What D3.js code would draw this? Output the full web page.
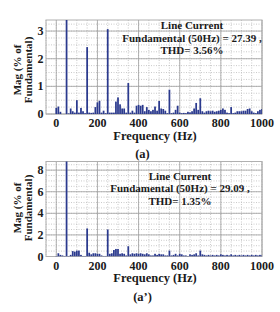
<!DOCTYPE html>
<html>
<head>
<meta charset="utf-8">
<script src="https://cdn.jsdelivr.net/npm/d3@7"></script>
<style>
  body { margin: 0; background: #fff; }
  svg text { font-family: "Liberation Serif", "Times New Roman", serif; font-weight: bold; fill: #1a1a1a; }
</style>
</head>
<body>
<svg id="chart" width="280" height="312"></svg>
<script>
'use strict';

// Harmonic spectrum, one bar every 10 Hz from 0 to 1000 Hz
const frequences = d3.range(0, 1001, 10);

// Panel (a) - % of fundamental
const magA = [0.22, 0.27, 0.08, 0, 0, 100, 0.02, 0.2, 0.1, 0.05,
    0.5, 0.05, 0.22, 0.1, 0.03, 2.42, 0.05, 0.04, 0.05, 0.25,
    0.42, 0.48, 0.05, 0.12, 0.03, 3.07, 0.05, 0.05, 0.05, 0.45,
    0.6, 0.35, 0.2, 0.2, 0.05, 1.12, 0.05, 0.12, 0.05, 0.3,
    0.33, 0.3, 0.33, 0.1, 0.25, 0.15, 0.1, 0.15, 0.27, 0.12,
    0.47, 0.2, 0.18, 0.12, 0.03, 0.88, 0.03, 0.05, 0.15, 0.3,
    0.05, 0.03, 0.04, 0.03, 0.08, 0.06, 0.1, 0.2, 0.4, 0.15,
    0.57, 0.1, 0.05, 0.1, 0.12, 0.1, 0.12, 0.08, 0.1, 0.12,
    0.15, 0.2, 0.15, 0.05, 0.03, 0.25, 0.03, 0.05, 0.1, 0.1,
    0.1, 0.12, 0.12, 0.18, 0.2, 0.1, 0.05, 0.03, 0.1, 0.15,
    0.18];

// Panel (a') - % of fundamental
const magB = [0.05, 0.3, 0.15, 0.1, 0.05, 100, 0.05, 0.15, 0.5, 0.45,
    0.55, 0.55, 0.15, 0.05, 0.05, 2.6, 0.35, 0.2, 0.3, 0.3,
    0.25, 0.25, 0.1, 0.05, 0.05, 2.5, 0.25, 0.3, 0.6, 0.7,
    0.7, 0.25, 0.3, 0.25, 0.1, 0.95, 0.2, 0.3, 0.25, 0.3,
    0.25, 0.3, 0.25, 0.2, 0.3, 0.2, 0.1, 0.1, 0.25, 0.15,
    0.25, 0.2, 0.2, 0.1, 0.1, 0.55, 0.1, 0.15, 0.25, 0.1,
    0.25, 0.2, 0.1, 0.1, 0.05, 0.2, 0.15, 0.2, 0.3, 0.1,
    0.55, 0.2, 0.15, 0.1, 0.15, 0.1, 0.15, 0.1, 0.15, 0.1,
    0.2, 0.15, 0.1, 0.15, 0.1, 0.2, 0.1, 0.15, 0.1, 0.15,
    0.1, 0.15, 0.1, 0.15, 0.1, 0.15, 0.1, 0.15, 0.1, 0.15,
    0.1];

const ticksX = [0, 200, 400, 600, 800, 1000];
const ticksYA = [0, 1, 2, 3];
const ticksYB = [0, 2, 4, 6, 8];

const texteA = ["Line Current", "Fundamental (50Hz) = 27.39 ,", "THD= 3.56%"];
const texteB = ["Line Current", "Fundamental (50Hz) = 29.09 ,", "THD= 1.35%"];

const svg = d3.select("#chart");

/**
 * Dessiner un panneau de spectre
 */
function dessinerPanneau(cfg) {
    const g = svg.append("g");
    const x = d3.scaleLinear().domain([-50, 1000]).range([46, 262]);
    const y = d3.scaleLinear().domain([0, cfg.yMax]).range([cfg.bas, cfg.haut]);

    // grille mineure
    g.selectAll(".vmin").data(d3.range(-50, 1001, 50)).join("line")
        .attr("x1", d => x(d)).attr("x2", d => x(d))
        .attr("y1", cfg.haut).attr("y2", cfg.bas)
        .attr("stroke", "#bdbdbd").attr("stroke-width", 0.8)
        .attr("stroke-dasharray", "1,1.5");
    g.selectAll(".hmin").data(d3.range(0, cfg.yMax, cfg.pasMineur)).join("line")
        .attr("x1", 46).attr("x2", 262)
        .attr("y1", d => y(d)).attr("y2", d => y(d))
        .attr("stroke", "#bdbdbd").attr("stroke-width", 0.8)
        .attr("stroke-dasharray", "1,1.5");
    // grille majeure
    g.selectAll(".vmaj").data(ticksX).join("line")
        .attr("x1", d => x(d)).attr("x2", d => x(d))
        .attr("y1", cfg.haut).attr("y2", cfg.bas)
        .attr("stroke", "#a0a0a0").attr("stroke-width", 0.8);
    g.selectAll(".hmaj").data(cfg.ticksY).join("line")
        .attr("x1", 46).attr("x2", 262)
        .attr("y1", d => y(d)).attr("y2", d => y(d))
        .attr("stroke", "#a0a0a0").attr("stroke-width", 0.8);

    // cadre
    g.append("rect")
        .attr("x", 46).attr("y", cfg.haut)
        .attr("width", 216).attr("height", cfg.bas - cfg.haut)
        .attr("fill", "none").attr("stroke", "#b0b0b0").attr("stroke-width", 1);

    // barres
    const clip = "clip-" + cfg.id;
    g.append("clipPath").attr("id", clip)
        .append("rect").attr("x", 46).attr("y", cfg.haut)
        .attr("width", 216).attr("height", cfg.bas - cfg.haut);
    const largeur = (x(10) - x(0)) * 0.85;
    g.append("g").attr("clip-path", `url(#${clip})`)
        .selectAll("rect").data(frequences).join("rect")
        .attr("x", (d) => x(d) - largeur / 2)
        .attr("width", largeur)
        .attr("y", (d, i) => y(cfg.valeurs[i]))
        .attr("height", (d, i) => Math.max(0, cfg.bas - y(cfg.valeurs[i])))
        .attr("fill", "#2b3a8e");

    // axes
    g.selectAll(".tx").data(ticksX).join("text")
        .attr("x", d => x(d)).attr("y", cfg.bas + 13)
        .attr("text-anchor", "middle").attr("font-size", 12)
        .text(d => d);
    g.selectAll(".ty").data(cfg.ticksY).join("text")
        .attr("x", 43.5).attr("y", d => y(d) + 4)
        .attr("text-anchor", "end").attr("font-size", 12)
        .text(d => d);

    g.append("text")
        .attr("x", 155).attr("y", cfg.bas + 25.5)
        .attr("text-anchor", "middle").attr("font-size", 12.5)
        .text("Frequency (Hz)");

    const ly = g.append("text")
        .attr("transform", `translate(0,${cfg.centreY}) rotate(-90)`)
        .attr("text-anchor", "middle").attr("font-size", 11);
    ly.append("tspan").attr("x", 0).attr("y", 21).text("Mag (% of");
    ly.append("tspan").attr("x", 0).attr("y", 32).text("Fundamental)");

    // annotation
    g.selectAll(".note").data(cfg.texte).join("text")
        .attr("x", cfg.noteX).attr("y", (d, i) => cfg.noteY + i * 12.7)
        .attr("text-anchor", "middle").attr("font-size", 11)
        .text(d => d);

    g.append("text")
        .attr("x", 142.5).attr("y", cfg.bas + 44)
        .attr("text-anchor", "middle").attr("font-size", 12.5)
        .text(cfg.lettre);
}

dessinerPanneau({id: "a", valeurs: magA, yMax: 3.4, haut: 20, bas: 114,
    ticksY: ticksYA, pasMineur: 0.25, centreY: 70, texte: texteA,
    noteX: 192, noteY: 29, lettre: "(a)"});
dessinerPanneau({id: "b", valeurs: magB, yMax: 8.8, haut: 161.5, bas: 256.5,
    ticksY: ticksYB, pasMineur: 0.5, centreY: 208, texte: texteB,
    noteX: 180, noteY: 179.5, lettre: "(a’)"});
</script>
</body>
</html>
